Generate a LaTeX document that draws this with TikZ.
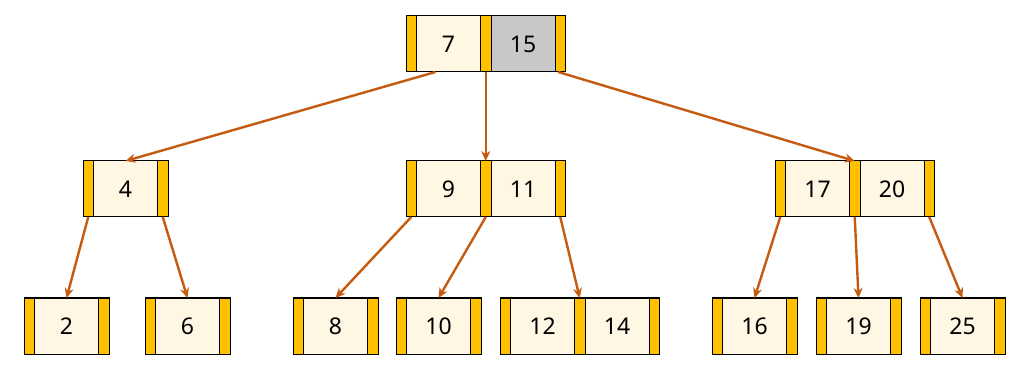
\documentclass[tikz,border=0pt]{standalone}
\usepackage{fontspec}
\setmainfont{Noto Sans}
\usetikzlibrary{arrows.meta,calc}
\definecolor{ptrcol}{HTML}{FFC000}
\definecolor{keycol}{HTML}{FFF7E4}
\definecolor{graycol}{HTML}{C8C8C8}
\definecolor{arrcol}{HTML}{C55A11}
\tikzset{
  cell/.style={draw=black, line width=1pt, minimum height=56pt, inner sep=0pt, outer sep=0pt, anchor=west},
  ptr/.style={cell, fill=ptrcol, minimum width=10.5pt},
  key/.style={cell, fill=keycol, minimum width=64pt, font=\fontsize{23}{26}\selectfont},
  graykey/.style={key, fill=graycol},
  link/.style={draw=arrcol, line width=2.4pt, -{Stealth[length=10pt,width=9pt]}},
}
\newcommand\btnode[4]{%
  \node[ptr] (#1p0) at (#2,#3) {};
  \foreach \k [count=\i] in {#4} {%
    \pgfmathtruncatemacro\j{\i-1}%
    \node[key] (#1k\i) at (#1p\j.east) {\k};
    \node[ptr] (#1p\i) at (#1k\i.east) {};
  }%
}
\begin{document}
\begin{tikzpicture}[x=1pt,y=-1pt]
\useasboundingbox (0,0) rectangle (1025,371);
% root
\node[ptr] (rp0) at (406,44) {};
\node[key] (rk1) at (rp0.east) {7};
\node[ptr] (rp1) at (rk1.east) {};
\node[graykey] (rk2) at (rp1.east) {15};
\node[ptr] (rp2) at (rk2.east) {};
% level 1
\btnode{a}{83}{189}{4}
\btnode{b}{406}{189}{9,11}
\btnode{c}{775}{189}{17,20}
% leaves
\btnode{d}{24}{326}{2}
\btnode{e}{145}{326}{6}
\btnode{f}{293}{326}{8}
\btnode{g}{396}{326}{10}
\btnode{h}{500}{326}{12,14}
\btnode{i}{712}{326}{16}
\btnode{j}{816}{326}{19}
\btnode{k}{920}{326}{25}
% links
\coordinate (r0) at ([xshift=19pt]rk1.south west);
\coordinate (r2) at ([xshift=-2pt]rp2.south);
\draw[link] (r0) -- (ak1.north);
\draw[link] (rp1.south) -- (bp1.north);
\draw[link] (r2) -- (cp1.north);
\draw[link] (ap0.south) -- (dk1.north);
\draw[link] (ap1.south) -- (ek1.north);
\draw[link] (bp0.south) -- (fk1.north);
\draw[link] (bp1.south) -- (gk1.north);
\draw[link] (bp2.south) -- (hp1.north);
\draw[link] (cp0.south) -- (ik1.north);
\draw[link] (cp1.south) -- (jk1.north);
\draw[link] (cp2.south) -- (kk1.north);
\end{tikzpicture}
\end{document}
